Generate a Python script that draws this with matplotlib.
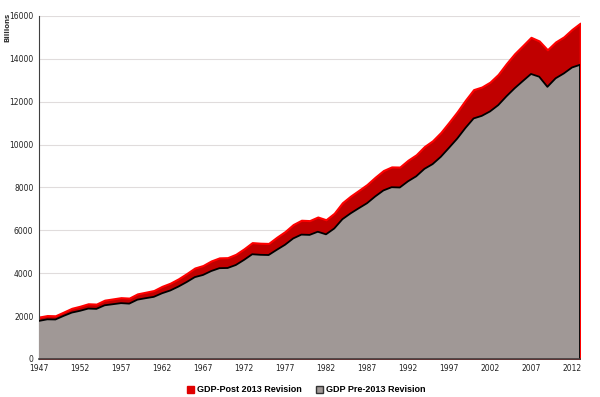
import numpy as np
import matplotlib
matplotlib.use("Agg")
import matplotlib.pyplot as plt
from matplotlib.patches import Patch

years = list(range(1947, 2014))

# GDP, pre-2013 revision (billions)
gdp_pre = [1772, 1845, 1838, 2006, 2160, 2243, 2347, 2333, 2500, 2550,
           2601, 2578, 2763, 2831, 2894, 3061, 3190, 3373, 3583, 3814,
           3915, 4098, 4231, 4240, 4379, 4617, 4881, 4855, 4845, 5089,
           5323, 5619, 5797, 5784, 5931, 5810, 6081, 6516, 6789, 7028,
           7261, 7577, 7857, 8008, 7995, 8284, 8517, 8864, 9086, 9426,
           9846, 10275, 10770, 11216, 11337, 11543, 11836, 12247, 12623, 12959,
           13290, 13162, 12690, 13088, 13315, 13593, 13720]

# GDP, post-2013 revision (billions)
gdp_post = [1950, 2021, 2011, 2184, 2360, 2456, 2571, 2556, 2739, 2797,
            2856, 2835, 3032, 3109, 3188, 3383, 3530, 3734, 3977, 4239,
            4355, 4569, 4712, 4722, 4878, 5134, 5424, 5396, 5385, 5675,
            5937, 6267, 6467, 6450, 6618, 6491, 6792, 7285, 7594, 7861,
            8133, 8475, 8786, 8955, 8948, 9267, 9521, 9905, 10175, 10561,
            11035, 11526, 12066, 12560, 12682, 12909, 13271, 13774, 14234, 14614,
            15000, 14830, 14419, 14784, 15021, 15369, 15660]

tick_years = list(range(1947, 2013, 5))

fig = plt.figure(figsize=(6, 3.97), dpi=100)
ax = fig.add_axes([0.065, 0.096, 0.902, 0.864])

ax.fill_between(years, 0, gdp_post, color='#c00000', edgecolor='#ff0000',
                linewidth=1.5, zorder=2)
ax.fill_between(years, 0, gdp_pre, color='#a09896', edgecolor='none', zorder=3)
ax.plot(years, gdp_pre, color='black', linewidth=1.3, zorder=4)
ax.plot([years[-1], years[-1]], [0, gdp_pre[-1]], color='black', linewidth=1.3, zorder=4)

ax.set_xlim(1947, 2013)
ax.set_ylim(0, 16000)
ax.set_yticks(range(0, 16001, 2000))
ax.set_xticks(tick_years)
ax.set_xticklabels([str(y) for y in tick_years])
ax.tick_params(axis='both', labelsize=5.5, length=0, colors='#222222', pad=4)
ax.yaxis.grid(True, color='#e0dcdc', linewidth=0.8)
ax.set_axisbelow(True)
for s in ['top', 'right']:
    ax.spines[s].set_visible(False)
ax.spines['left'].set_color('#404040')
ax.spines['bottom'].set_color('#404040')
ax.spines['bottom'].set_linewidth(1.2)
ax.spines['bottom'].set_zorder(5)

fig.text(0.008, 0.93, 'Billions', rotation=90, fontsize=5, color='#333333',
         ha='left', va='center', fontweight='bold')

handles = [Patch(facecolor='#e00000', edgecolor='#e00000'),
           Patch(facecolor='#a09896', edgecolor='#333333')]
fig.legend(handles, ['GDP-Post 2013 Revision', 'GDP Pre-2013 Revision'],
           loc='center', bbox_to_anchor=(0.51, 0.018), ncol=2, frameon=False,
           handlelength=0.8, handleheight=0.8, handletextpad=0.3,
           columnspacing=1.6,
           prop={'family': 'Liberation Sans', 'weight': 'bold', 'size': 6.5})

fig.savefig('out.png', dpi=100)
